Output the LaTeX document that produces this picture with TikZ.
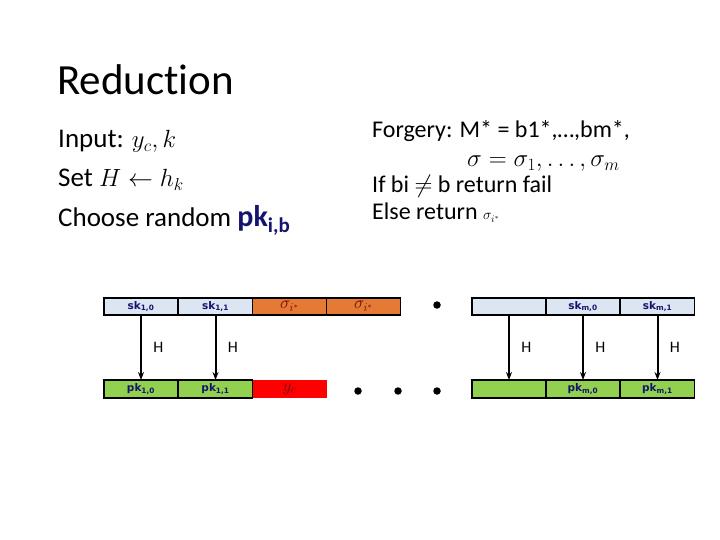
\documentclass[tikz,border=0pt]{standalone}
\usepackage{fontspec}
\setmainfont{Carlito}[Ligatures=NoCommon]
\newfontfamily\lblfont{DejaVu Sans}
\usetikzlibrary{arrows.meta}
\definecolor{lblue}{RGB}{220,230,242}
\definecolor{orng}{RGB}{228,122,52}
\definecolor{grn}{RGB}{146,208,80}
\definecolor{navy}{RGB}{20,20,110}
\definecolor{maroon}{RGB}{110,10,10}
\tikzset{
  cell/.style={minimum width=74pt,minimum height=17pt,inner sep=0pt,outer sep=0pt,font=\lblfont\fontsize{10.5}{12}\selectfont\bfseries,text=navy},
  skcell/.style={cell,draw=black,line width=1.5pt,fill=lblue},
  pkcell/.style={cell,draw=black,line width=1.5pt,fill=grn,minimum height=18pt},
  sigcell/.style={cell,draw=black,line width=1.2pt,fill=orng,text=maroon,font=\fontsize{17}{17}\selectfont},
  ycell/.style={cell,fill=red,text=maroon,minimum height=18pt,font=\fontsize{17}{17}\selectfont},
  harrow/.style={line width=2pt,-{Stealth[length=8pt,width=6pt]}},
  hlab/.style={font=\fontsize{16}{16}\selectfont},
  dotn/.style={circle,fill=black,inner sep=0pt,minimum size=7.5pt},
  body/.style={anchor=base west,inner sep=0pt,font=\fontsize{27}{30}\selectfont},
  rbody/.style={anchor=base west,inner sep=0pt,font=\fontsize{24}{28}\selectfont}
}
\begin{document}
\begin{tikzpicture}[x=1pt,y=-1pt]
\useasboundingbox (0,0) rectangle (720,540);
% title
\node[anchor=base west,inner sep=0pt,font=\fontsize{43}{48}\selectfont] (title) at (57,95) {Reduction};
% left text
\node[body] (t1) at (58,148) {Input: $y_c,k$};
\node[body] (t2) at (58,187) {Set $H\leftarrow h_k$};
\node[body] (t3) at (58,226) {Choose random {\fontsize{30}{30}\selectfont\textcolor{navy}{\textbf{pk\textsubscript{i,b}}}}};
% right text
\node[rbody] (r1) at (372,138) {Forgery: M* = b1*,…,bm*,};
\node[rbody] (r2) at (467,167) {$\sigma=\sigma_1,\ldots,\sigma_m$};
\node[rbody] (r3) at (372,193) {If bi $\neq$ b return fail};
\node[rbody] (r4) at (372,220) {Else return {\fontsize{14}{14}\selectfont$\sigma_{i^*}$}};
% top row
\node[skcell] (sk10) at (141,306.5) {sk\textsubscript{1,0}};
\node[skcell] (sk11) at (215.5,306.5) {sk\textsubscript{1,1}};
\node[sigcell] (s1) at (289.5,306.5) {$\sigma_{i^*}$};
\node[sigcell] (s2) at (363.5,306.5) {$\sigma_{i^*}$};
\node[dotn] (d0) at (437,305) {};
\node[skcell] (skm) at (509,306.5) {};
\node[skcell] (skm0) at (583,306.5) {sk\textsubscript{m,0}};
\node[skcell] (skm1) at (657.5,306.5) {sk\textsubscript{m,1}};
% bottom row
\node[pkcell] (pk10) at (141,389) {pk\textsubscript{1,0}};
\node[pkcell] (pk11) at (215.5,389) {pk\textsubscript{1,1}};
\node[ycell] (yc) at (289.5,389) {$y_c$};
\node[dotn] (d1) at (358,391) {};
\node[dotn] (d2) at (398,391) {};
\node[dotn] (d3) at (437,391) {};
\node[pkcell] (pkm) at (509,389) {};
\node[pkcell] (pkm0) at (583,389) {pk\textsubscript{m,0}};
\node[pkcell] (pkm1) at (657.5,389) {pk\textsubscript{m,1}};
% arrows
\draw[harrow] (sk10) -- (pk10) node[hlab,midway,right=8pt] (h1) {H};
\draw[harrow] (sk11) -- (pk11) node[hlab,midway,right=8pt] (h2) {H};
\draw[harrow] (skm) -- (pkm) node[hlab,midway,right=8pt] (h3) {H};
\draw[harrow] (skm0) -- (pkm0) node[hlab,midway,right=8pt] (h4) {H};
\draw[harrow] (skm1) -- (pkm1) node[hlab,midway,right=8pt] (h5) {H};
\end{tikzpicture}
\end{document}
